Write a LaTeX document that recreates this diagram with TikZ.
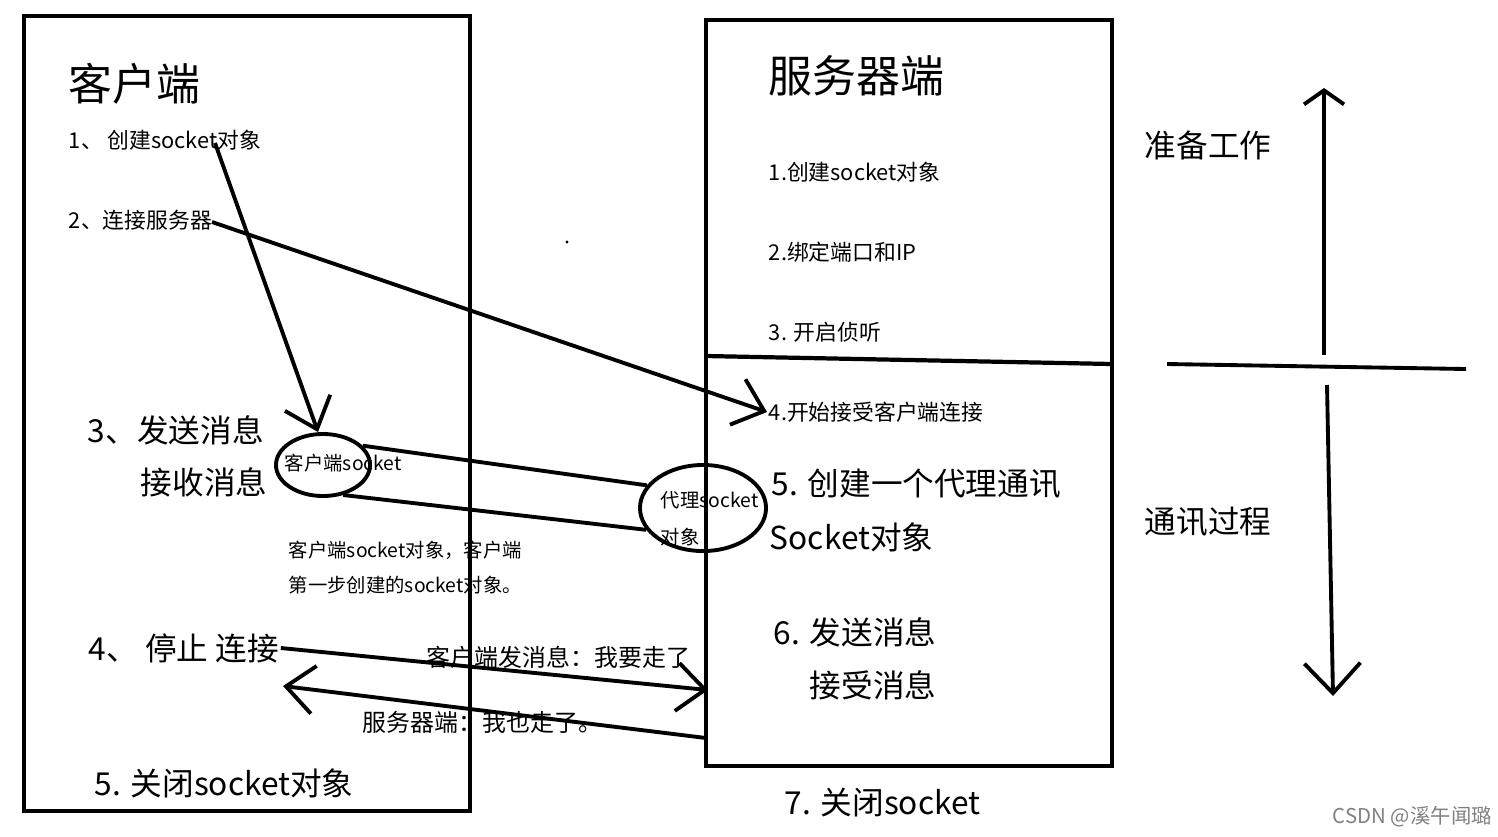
\documentclass[tikz,border=0pt]{standalone}
\usepackage{fontspec}
\newfontfamily\cjk{Noto Sans CJK SC}
\usetikzlibrary{positioning, arrows.meta, shapes.geometric}

\begin{document}
\begin{tikzpicture}[
      x=0.01cm, y=-0.01cm, font=\cjk, line width=1.1pt,
      box/.style={draw, line width=1.2pt},
      title/.style={anchor=west, inner sep=0pt, font=\cjk\fontsize{12.5}{15}\selectfont},
      big/.style={anchor=west, inner sep=0pt, font=\cjk\fontsize{9}{11}\selectfont},
      small/.style={anchor=west, inner sep=0pt, font=\cjk\fontsize{6.2}{8}\selectfont},
      tiny/.style={anchor=west, inner sep=0pt, font=\cjk\fontsize{5.5}{7}\selectfont},
      sock/.style={draw, ellipse, inner sep=0pt},
      arr/.style={-{Straight Barb[length=2.8mm, width=4.8mm]}, line join=round}
    ]
    \useasboundingbox (0,0) rectangle (1498,836);
    %% client side
    \draw[box] (24,16) rectangle (470,811);
    \node[title] (cltitle) at (67,84) {客户端};
    \node[small] (cl1) at (67,140) {1、 创建socket对象};
    \node[small] (cl2) at (67,220) {2、连接服务器};
    \node[big] (cl3) at (86,430) {3、发送消息};
    \node[big] (cl3b) at (139,482) {接收消息};
    \node[big] (cl4) at (87,648) {4、 停止 连接};
    \node[big] (cl5) at (93,783) {5. 关闭socket对象};
    \node[sock, minimum width=0.94cm, minimum height=0.62cm] (csock) at (323,465) {};
    \node[tiny] (csocktxt) at (283,463) {客户端socket};
    \node[tiny] (note1) at (287,550) {客户端socket对象，客户端};
    \node[tiny] (note2) at (287,585) {第一步创建的socket对象。};
    %% server side
    \draw[box] (706,20) rectangle (1112,766);
    \coordinate (divl) at (706,356);
    \coordinate (divr) at (1112,364);
    \draw[box] (divl) -- (divr);
    \node[title] (srvtitle) at (767,76) {服务器端};
    \node[small] (srv1) at (767,172) {1.创建socket对象};
    \node[small] (srv2) at (767,252) {2.绑定端口和IP};
    \node[small] (srv3) at (767,332) {3. 开启侦听};
    \node[small] (srv4) at (767,412) {4.开始接受客户端连接};
    \node[big] (srv5) at (770,484) {5. 创建一个代理通讯};
    \node[big] (srv5b) at (768,537) {Socket对象};
    \node[big] (srv6) at (772,632) {6. 发送消息};
    \node[big] (srv6b) at (808,685) {接受消息};
    \node[big] (srv7) at (783,803) {7. 关闭socket};
    \node[sock, minimum width=1.26cm, minimum height=0.86cm] (psock) at (703,508) {};
    \node[tiny] (psocktxt) at (659,500) {代理socket};
    \node[tiny] (psocktxtb) at (659,537) {对象};
    %% connections
    \coordinate (a1s) at (215,143);
    \coordinate (a1e) at (318,432);
    \draw[arr] (a1s) -- (a1e);
    \draw[arr] (212,222) -- (srv4.west);
    \draw (csock.26) -- (psock.158);
    \draw (csock.-56) -- (psock.201);
    \coordinate (byes) at (708,690);
    \draw[arr] (cl4.east) -- (byes);
    \coordinate (ackl) at (283,686);
    \coordinate (ackr) at (706,738);
    \draw[arr] (ackr) -- (ackl);
    \node[small, font=\cjk\fontsize{6.8}{8}\selectfont] (msg1) at (425,657) {客户端发消息：我要走了};
    \node[small, font=\cjk\fontsize{6.8}{8}\selectfont] (msg2) at (361,722) {服务器端：我也走了。};
    \fill (567,242) circle (1.6);
    %% phases
    \coordinate (phl) at (1167,364);
    \coordinate (phr) at (1466,369);
    \draw (phl) -- (phr);
    \coordinate (upb) at (1324,355);
    \coordinate (upt) at (1324,88);
    \draw[-{Straight Barb[length=1.4mm, width=4mm]}] (upb) -- (upt);
    \coordinate (dnt) at (1327,385);
    \coordinate (dnb) at (1333,696);
    \draw[-{Straight Barb[length=3mm, width=5.6mm]}] (dnt) -- (dnb);
    \node[big] (prep) at (1143,145) {准备工作};
    \node[big] (comm) at (1143,522) {通讯过程};
    \node[tiny, text=gray, font=\cjk\fontsize{5.8}{7}\selectfont] (mark) at (1331,817) {CSDN @溪午闻璐};
  \end{tikzpicture}
\end{document}
